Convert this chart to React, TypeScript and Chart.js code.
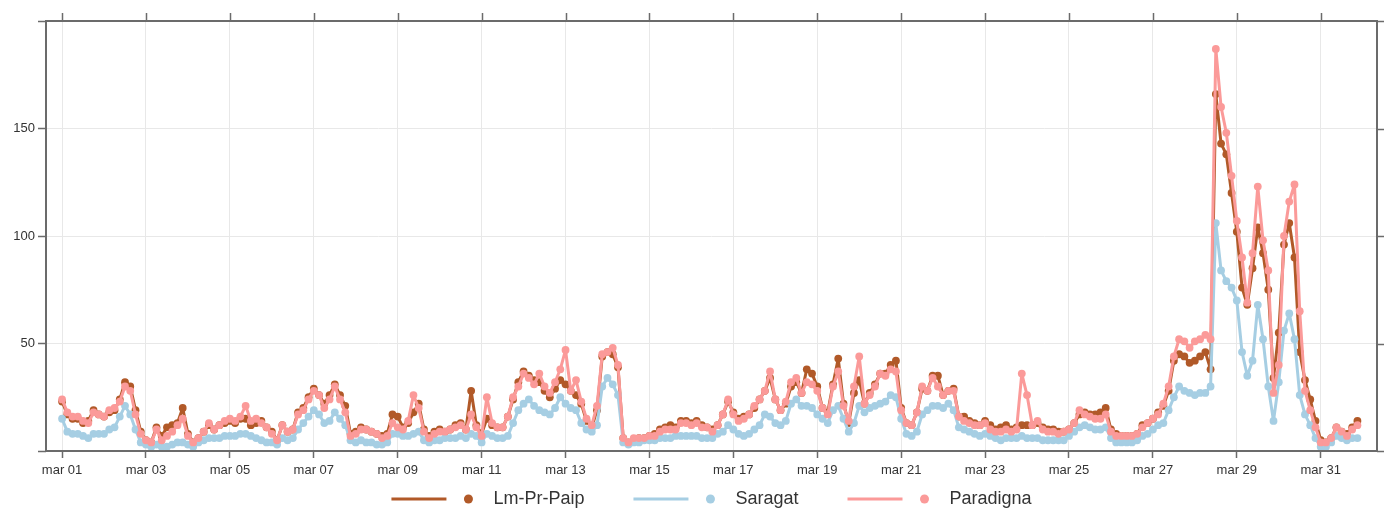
import React, { useEffect, useRef } from 'react';
import { Chart, registerables } from 'chart.js';

Chart.register(...registerables);

// hours between consecutive readings (first reading: mar 01 00:00)
const STEP_HOURS = 3;
const TICK_EVERY_HOURS = 48;

const tickLabels = [
  'mar 01', 'mar 03', 'mar 05', 'mar 07', 'mar 09', 'mar 11', 'mar 13', 'mar 15',
  'mar 17', 'mar 19', 'mar 21', 'mar 23', 'mar 25', 'mar 27', 'mar 29', 'mar 31',
];
const yLabelled = [50, 100, 150];

const seriesNames = ['Lm-Pr-Paip', 'Saragat', 'Paradigna'];
const seriesColors = ['#b15928', '#a6cee3', '#fb9a99'];

const lmPrPaip = [
  23, 17, 15, 15, 13, 14, 19, 17,
  16, 18, 19, 24, 32, 30, 19, 9,
  5, 4, 11, 7, 11, 12, 13, 20,
  8, 4, 6, 9, 12, 10, 12, 13,
  14, 13, 15, 15, 12, 13, 14, 11,
  9, 5, 12, 9, 10, 18, 20, 25,
  29, 26, 22, 26, 31, 26, 21, 8,
  9, 11, 10, 9, 8, 7, 8, 17,
  16, 11, 13, 18, 22, 10, 7, 9,
  10, 9, 10, 12, 13, 10, 28, 12,
  8, 15, 12, 11, 11, 16, 24, 32,
  37, 35, 33, 32, 28, 25, 29, 33,
  31, 28, 26, 22, 14, 11, 19, 44,
  46, 45, 39, 6, 4, 5, 6, 6,
  7, 8, 10, 11, 12, 11, 14, 14,
  13, 14, 12, 11, 10, 12, 17, 23,
  18, 15, 16, 17, 20, 24, 28, 34,
  24, 19, 22, 30, 32, 27, 38, 36,
  30, 20, 18, 31, 43, 22, 13, 27,
  33, 22, 27, 31, 36, 36, 40, 42,
  20, 13, 12, 18, 29, 28, 35, 35,
  26, 28, 29, 16, 16, 14, 13, 12,
  14, 12, 10, 11, 12, 10, 11, 12,
  12, 12, 13, 11, 10, 10, 9, 9,
  10, 13, 17, 18, 17, 17, 18, 20,
  10, 8, 7, 7, 7, 8, 12, 13,
  15, 18, 21, 28, 42, 45, 44, 41,
  42, 44, 46, 38, 166, 143, 138, 120,
  102, 76, 68, 85, 104, 92, 75, 34,
  55, 96, 106, 90, 46, 33, 24, 14,
  5, 4, 6, 11, 9, 8, 11, 14,
];

const saragat = [
  15, 9, 8, 8, 7, 6, 8, 8,
  8, 10, 11, 16, 21, 17, 10, 4,
  3, 2, 3, 2, 2, 3, 4, 4,
  3, 2, 4, 5, 6, 6, 6, 7,
  7, 7, 8, 8, 7, 6, 5, 4,
  4, 3, 6, 5, 6, 10, 13, 16,
  19, 17, 13, 14, 18, 15, 12, 5,
  4, 5, 4, 4, 3, 3, 4, 8,
  8, 7, 7, 8, 9, 5, 4, 5,
  5, 6, 6, 6, 7, 6, 8, 7,
  4, 8, 7, 6, 6, 7, 13, 19,
  22, 24, 21, 19, 18, 17, 20, 25,
  22, 20, 19, 13, 10, 9, 12, 30,
  34, 31, 26, 4, 3, 4, 4, 5,
  5, 5, 6, 6, 6, 7, 7, 7,
  7, 7, 6, 6, 6, 8, 9, 12,
  10, 8, 7, 8, 10, 12, 17, 16,
  13, 12, 14, 22, 24, 21, 21, 20,
  17, 15, 13, 19, 21, 15, 9, 13,
  21, 18, 20, 21, 22, 23, 26, 25,
  15, 8, 7, 9, 17, 19, 21, 21,
  20, 22, 19, 11, 10, 9, 8, 7,
  8, 7, 6, 5, 6, 6, 6, 7,
  6, 6, 6, 5, 5, 5, 5, 5,
  7, 9, 11, 12, 11, 10, 10, 11,
  6, 4, 4, 4, 4, 5, 7, 8,
  10, 12, 13, 19, 25, 30, 28, 27,
  26, 27, 27, 30, 106, 84, 79, 76,
  70, 46, 35, 42, 68, 52, 30, 14,
  32, 56, 64, 52, 26, 17, 12, 6,
  2, 2, 4, 7, 6, 5, 6, 6,
];

const paradigna = [
  24, 18, 16, 16, 14, 13, 18, 17,
  16, 19, 20, 23, 30, 28, 17, 8,
  5, 4, 10, 5, 7, 9, 12, 15,
  7, 4, 6, 9, 13, 10, 12, 14,
  15, 14, 16, 21, 14, 15, 13, 11,
  8, 5, 12, 9, 10, 17, 19, 24,
  28, 26, 20, 24, 30, 24, 18, 7,
  8, 10, 10, 9, 8, 6, 7, 13,
  11, 10, 14, 26, 20, 9, 6, 8,
  9, 9, 10, 11, 12, 10, 17, 11,
  7, 25, 13, 11, 11, 16, 25, 30,
  36, 34, 31, 36, 30, 27, 32, 38,
  47, 28, 33, 23, 15, 12, 21, 45,
  46, 48, 40, 6, 4, 6, 6, 6,
  7, 7, 9, 10, 10, 10, 13, 13,
  12, 13, 11, 11, 9, 12, 17, 24,
  17, 14, 15, 17, 21, 24, 28, 37,
  24, 19, 23, 32, 34, 27, 32, 31,
  28, 20, 17, 30, 37, 21, 14, 30,
  44, 22, 26, 30, 36, 35, 38, 37,
  19, 13, 12, 18, 30, 28, 34, 30,
  26, 28, 28, 16, 14, 13, 12, 12,
  13, 10, 9, 9, 10, 9, 10, 36,
  26, 12, 14, 10, 9, 9, 8, 9,
  10, 13, 19, 17, 16, 15, 15, 17,
  9, 7, 7, 7, 7, 8, 11, 13,
  15, 17, 22, 30, 44, 52, 51, 48,
  51, 52, 54, 52, 187, 160, 148, 128,
  107, 90, 69, 92, 123, 98, 84, 27,
  40, 100, 116, 124, 65, 28, 19, 11,
  4, 4, 6, 11, 9, 7, 10, 12,
];

const seriesValues = [lmPrPaip, saragat, paradigna];

const FONT = '"Liberation Sans", Arial, Helvetica, sans-serif';
const FRAME = '#6b6b6b';
const GRID = '#e8e8e8';
const TEXT = '#333333';

const framePlugin = {
  id: 'frameAndLegend',
  afterDraw(chart: any) {
    const { ctx, chartArea, scales } = chart;
    const { left, right, top, bottom } = chartArea;
    const xs = scales.x;
    const ys = scales.y;
    ctx.save();
    ctx.strokeStyle = FRAME;
    ctx.lineWidth = 2;
    ctx.strokeRect(left, top, right - left, bottom - top);
    ctx.lineWidth = 1.5;
    ctx.beginPath();
    xs.ticks.forEach((t: any) => {
      const px = Math.round(xs.getPixelForValue(t.value)) + 0.5;
      ctx.moveTo(px, top);
      ctx.lineTo(px, top - 8);
    });
    ys.ticks.forEach((t: any) => {
      const py = Math.round(ys.getPixelForValue(t.value)) + 0.5;
      ctx.moveTo(right, py);
      ctx.lineTo(right + 7, py);
    });
    ctx.stroke();

    // legend: line + dot + label
    const LINE_LEN = 55;
    const DOT_GAP = 22;
    const TEXT_GAP = 25;
    const ITEM_GAP = 49;
    ctx.font = `18px ${FONT}`;
    const widths = seriesNames.map(
      (n) => LINE_LEN + DOT_GAP + TEXT_GAP + ctx.measureText(n).width
    );
    const total = widths.reduce((a, b) => a + b, 0) + ITEM_GAP * (widths.length - 1);
    let x0 = (left + right) / 2 - total / 2;
    const yc = 499;
    seriesNames.forEach((name, i) => {
      ctx.strokeStyle = seriesColors[i];
      ctx.lineWidth = 3;
      ctx.beginPath();
      ctx.moveTo(x0, yc);
      ctx.lineTo(x0 + LINE_LEN, yc);
      ctx.stroke();
      ctx.fillStyle = seriesColors[i];
      ctx.beginPath();
      ctx.arc(x0 + LINE_LEN + DOT_GAP, yc, 4.5, 0, Math.PI * 2);
      ctx.fill();
      ctx.fillStyle = TEXT;
      ctx.textAlign = 'left';
      ctx.textBaseline = 'middle';
      ctx.fillText(name, x0 + LINE_LEN + DOT_GAP + TEXT_GAP, yc);
      x0 += widths[i] + ITEM_GAP;
    });
    ctx.restore();
  },
};

export default function App() {
  const canvasRef = useRef<HTMLCanvasElement | null>(null);

  useEffect(() => {
    if (!canvasRef.current) return;
    const lastHour = (lmPrPaip.length - 1) * STEP_HOURS;
    const datasets = seriesNames.map((name, i) => ({
      label: name,
      data: seriesValues[i].map((v, k) => ({ x: k * STEP_HOURS, y: v })),
      borderColor: seriesColors[i],
      backgroundColor: seriesColors[i],
      pointBackgroundColor: seriesColors[i],
      pointBorderWidth: 0,
      pointRadius: 3.9,
      borderWidth: 3,
      borderJoinStyle: 'round' as const,
      borderCapStyle: 'round' as const,
      tension: 0,
      order: [2, 1, 0][i],
    }));

    const chart = new Chart(canvasRef.current, {
      type: 'line',
      data: { datasets },
      plugins: [framePlugin],
      options: {
        animation: false,
        responsive: false,
        devicePixelRatio: 1,
        layout: { padding: { left: 0, top: 21, right: 12, bottom: 0 } },
        plugins: {
          legend: { display: false },
          tooltip: { enabled: false },
        },
        scales: {
          x: {
            type: 'linear',
            min: -9.2,
            max: lastHour + 2 + 9.2,
            afterFit: (s: any) => {
              s.height = 63;
            },
            afterBuildTicks: (s: any) => {
              s.ticks = tickLabels.map((_, i) => ({ value: i * TICK_EVERY_HOURS }));
            },
            grid: {
              color: GRID,
              lineWidth: 1,
              tickLength: 7,
              tickColor: FRAME,
              tickWidth: 1.5,
            },
            border: { display: false },
            ticks: {
              autoSkip: false,
              maxRotation: 0,
              padding: 5,
              color: TEXT,
              font: { family: FONT, size: 13 },
              callback: (v: any) => tickLabels[Math.round(Number(v) / TICK_EVERY_HOURS)] ?? '',
            },
          },
          y: {
            type: 'linear',
            min: 0,
            max: 200,
            afterFit: (s: any) => {
              s.width = 46;
            },
            grid: {
              color: GRID,
              lineWidth: 1,
              tickLength: 8,
              tickColor: FRAME,
              tickWidth: 1.5,
            },
            border: { display: false },
            ticks: {
              stepSize: 50,
              padding: 3,
              color: TEXT,
              font: { family: FONT, size: 13 },
              callback: (v: any) => (yLabelled.includes(Number(v)) ? String(v) : ''),
            },
          },
        },
      },
    });
    return () => chart.destroy();
  }, []);

  return (
    <div style={{ position: 'absolute', left: 0, top: 0, width: 1389, height: 514, background: '#fff' }}>
      <canvas ref={canvasRef} width={1389} height={514} style={{ display: 'block' }} />
    </div>
  );
}
